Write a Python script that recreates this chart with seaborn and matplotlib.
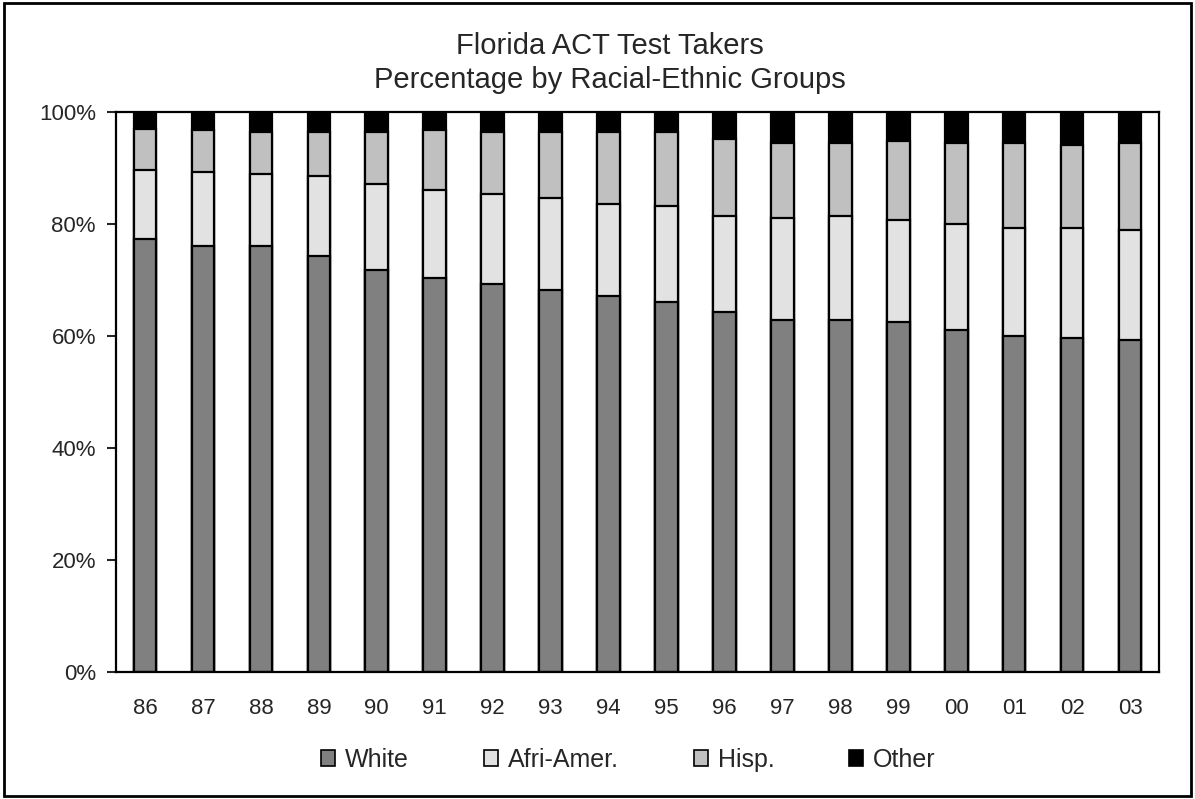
import numpy as np
import pandas as pd
import matplotlib.pyplot as plt
import seaborn as sns
from matplotlib.patches import Patch, Rectangle

sns.set_style('white')
plt.rcParams['font.family'] = ['Liberation Sans', 'DejaVu Sans']

# years and size of each stacked segment (percent)
years = ['86', '87', '88', '89', '90', '91', '92', '93', '94',
         '95', '96', '97', '98', '99', '00', '01', '02', '03']
white = [77.3, 76.1, 76.1, 74.3, 71.8, 70.4, 69.3, 68.2, 67.1,
         66.1, 64.3, 62.9, 62.9, 62.5, 61.1, 60.0, 59.6, 59.3]
afri_amer = [12.4, 13.2, 12.9, 14.3, 15.4, 15.7, 16.1, 16.4, 16.5,
             17.1, 17.1, 18.2, 18.5, 18.2, 18.9, 19.3, 19.7, 19.6]
hisp = [7.3, 7.4, 7.4, 7.8, 9.2, 10.6, 11.0, 11.8, 12.8,
        13.2, 13.8, 13.4, 13.1, 14.2, 14.5, 15.2, 14.8, 15.6]
other = [100 - (w + a + h) for w, a, h in zip(white, afri_amer, hisp)]

df = pd.DataFrame({'year': years, 'White': white, 'Afri-Amer.': afri_amer,
                   'Hisp.': hisp, 'Other': other})

groups = ['White', 'Afri-Amer.', 'Hisp.', 'Other']
colors = {'White': '#808080', 'Afri-Amer.': '#e2e2e2',
          'Hisp.': '#c0c0c0', 'Other': '#000000'}

fig = plt.figure(figsize=(11.95, 7.99), dpi=100)
ax = fig.add_axes([0.0971, 0.159, 0.8728, 0.7009])

# stacked bars: draw cumulative tops, biggest first
cum = df[groups].cumsum(axis=1)
for g in reversed(groups):
    sns.barplot(x=df['year'], y=cum[g], color=colors[g], saturation=1,
                edgecolor='black', linewidth=1.6, width=0.39, ax=ax)

ax.set_ylim(0, 100)
ax.set_yticks(np.arange(0, 101, 20))
ax.set_yticklabels([f'{v}%' for v in range(0, 101, 20)])
ax.set_xlabel('')
ax.set_ylabel('')
ax.tick_params(axis='y', length=6.5, width=1.5, direction='out', left=True, labelsize=16, pad=8)
ax.tick_params(axis='x', length=0, labelsize=16, pad=19)
for s in ax.spines.values():
    s.set_visible(True)
    s.set_color('black')
    s.set_linewidth(1.6)

fig.text(0.5105, 1 - 54 / 799, 'Florida ACT Test Takers', ha='center', va='baseline', fontsize=21)
fig.text(0.5105, 1 - 88 / 799, 'Percentage by Racial-Ethnic Groups', ha='center', va='baseline', fontsize=21)

handles = [Patch(facecolor=colors[g], edgecolor='black', linewidth=1.2) for g in groups]
fig.legend(handles, groups, loc='center', bbox_to_anchor=(0.526, 0.049), ncol=4,
           frameon=False, fontsize=18, handlelength=0.55, handleheight=0.55,
           handletextpad=0.4, columnspacing=3.0)

fig.patches.append(Rectangle((0.003, 0.004), 0.994, 0.992, transform=fig.transFigure,
                             fill=False, edgecolor='black', linewidth=2))

fig.savefig('out.png', dpi=100)
